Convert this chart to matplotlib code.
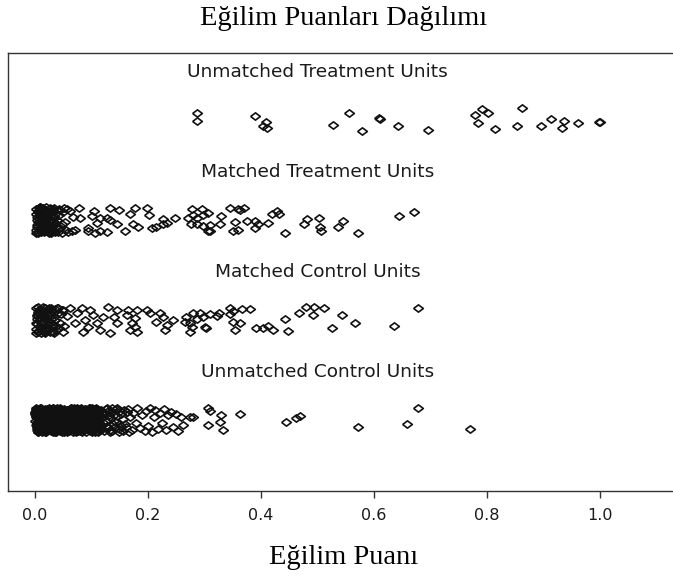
import numpy as np
import matplotlib
matplotlib.use("Agg")
import matplotlib.pyplot as plt

# propensity scores (x) and vertical jitter (j) for each group
ut_x = [0.287, 0.287, 0.389, 0.409, 0.404, 0.411, 0.527, 0.556, 0.579, 0.609,
        0.611, 0.643, 0.695, 0.779, 0.792, 0.802, 0.784, 0.814, 0.862, 0.853,
        0.895, 0.913, 0.936, 0.933, 0.961, 0.999, 1.000]
ut_j = [0.066, -0.007, 0.043, -0.017, -0.056, -0.076, -0.047, 0.072, -0.109, 0.023,
        0.010, -0.056, -0.099, 0.052, 0.106, 0.066, -0.027, -0.089, 0.116, -0.056,
        -0.056, 0.007, -0.007, -0.076, -0.027, -0.018, -0.022]

# matched treatment: dense part near zero, then the spread
mt_x = [0.001, 0.003, 0.004, 0.006, 0.008, 0.010, 0.011, 0.013, 0.015, 0.017,
        0.002, 0.005, 0.007, 0.009, 0.012, 0.014, 0.016, 0.018, 0.020, 0.022,
        0.003, 0.006, 0.009, 0.012, 0.015, 0.019, 0.021, 0.024, 0.026, 0.028,
        0.004, 0.008, 0.011, 0.014, 0.018, 0.023, 0.025, 0.027, 0.030, 0.032,
        0.001, 0.007, 0.010, 0.016, 0.020, 0.024, 0.029, 0.031, 0.034, 0.036,
        0.005, 0.013, 0.017, 0.022, 0.027, 0.033, 0.035, 0.038, 0.040, 0.043,
        0.009, 0.019, 0.026, 0.030, 0.037, 0.041, 0.045, 0.048, 0.051, 0.055,
        0.002, 0.012, 0.021, 0.028, 0.034, 0.039, 0.044, 0.050, 0.058, 0.062,
        0.006, 0.015, 0.023, 0.032, 0.042, 0.047, 0.053, 0.057, 0.065, 0.068,
        0.077, 0.100, 0.104, 0.115, 0.109, 0.094, 0.132, 0.128, 0.133, 0.149,
        0.145, 0.168, 0.177, 0.173, 0.160, 0.183, 0.198, 0.201, 0.207, 0.215,
        0.227, 0.233, 0.248, 0.227, 0.115, 0.128, 0.106, 0.094, 0.071, 0.080,
        0.277, 0.295, 0.280, 0.297, 0.271, 0.286, 0.307, 0.276, 0.286, 0.298,
        0.309, 0.307, 0.309, 0.330, 0.327, 0.345, 0.360, 0.363, 0.370, 0.354,
        0.351, 0.360, 0.375, 0.389, 0.394, 0.389, 0.413, 0.419, 0.428, 0.432,
        0.442, 0.476, 0.482, 0.503, 0.504, 0.507, 0.537, 0.546, 0.571, 0.645,
        0.670]
mt_j = [0.11, -0.05, 0.03, -0.12, 0.08, -0.02, 0.12, -0.09, 0.05, -0.06,
        -0.10, 0.09, -0.03, 0.13, -0.08, 0.01, -0.12, 0.10, -0.04, 0.06,
        0.00, -0.13, 0.06, -0.06, 0.11, -0.11, 0.03, -0.02, 0.12, -0.09,
        -0.07, 0.04, -0.10, 0.07, -0.01, 0.09, -0.13, 0.04, -0.06, 0.11,
        0.06, 0.12, -0.12, -0.04, 0.13, -0.08, 0.08, -0.11, 0.02, -0.03,
        -0.02, -0.10, 0.10, 0.02, -0.05, 0.12, -0.12, 0.07, -0.09, 0.05,
        0.13, 0.07, -0.11, 0.09, -0.07, -0.12, 0.10, -0.04, 0.12, -0.10,
        -0.13, 0.00, 0.05, -0.13, 0.04, 0.00, -0.08, 0.08, -0.12, 0.09,
        0.08, 0.12, -0.07, -0.01, 0.11, -0.13, -0.02, 0.11, -0.11, 0.03,
        0.123, 0.040, 0.090, 0.023, -0.027, -0.077, 0.117, 0.023, -0.003, 0.103,
        -0.043, 0.057, 0.117, -0.043, -0.110, -0.070, 0.117, 0.050, -0.077, -0.070,
        0.007, -0.027, 0.023, -0.043, -0.110, -0.117, -0.127, -0.110, -0.103, 0.023,
        0.107, 0.107, 0.050, 0.050, 0.017, 0.023, 0.073, -0.043, -0.043, -0.060,
        -0.050, -0.107, -0.110, 0.040, -0.043, 0.123, 0.107, 0.097, 0.117, -0.017,
        -0.110, -0.103, -0.010, -0.010, -0.043, -0.083, -0.027, 0.057, 0.090, 0.057,
        -0.127, -0.037, 0.007, 0.023, -0.070, -0.107, -0.073, -0.007, -0.127, 0.040,
        0.083]

# matched control
mc_x = [0.001, 0.003, 0.005, 0.007, 0.009, 0.011, 0.013, 0.015, 0.017, 0.019,
        0.002, 0.004, 0.006, 0.008, 0.010, 0.012, 0.014, 0.016, 0.018, 0.021,
        0.003, 0.006, 0.009, 0.012, 0.016, 0.020, 0.023, 0.025, 0.027, 0.030,
        0.001, 0.005, 0.010, 0.014, 0.018, 0.022, 0.026, 0.029, 0.032, 0.034,
        0.004, 0.008, 0.011, 0.015, 0.019, 0.024, 0.028, 0.031, 0.035, 0.038,
        0.002, 0.007, 0.013, 0.017, 0.021, 0.026, 0.030, 0.033, 0.037, 0.041,
        0.006, 0.012, 0.018, 0.023, 0.029, 0.036, 0.039, 0.043, 0.046, 0.049,
        0.009, 0.016, 0.022, 0.027, 0.033, 0.040, 0.044, 0.048, 0.052, 0.057,
        0.678, 0.635, 0.566, 0.543, 0.525, 0.493, 0.480, 0.512, 0.492, 0.468,
        0.442, 0.448, 0.392, 0.404, 0.413, 0.422, 0.354, 0.351, 0.363, 0.345,
        0.351, 0.366, 0.381, 0.345, 0.326, 0.322, 0.301, 0.303, 0.274, 0.274,
        0.265, 0.268, 0.280, 0.292, 0.298, 0.286, 0.310, 0.277, 0.245, 0.233,
        0.227, 0.221, 0.204, 0.198, 0.215, 0.230, 0.180, 0.165, 0.162, 0.177,
        0.171, 0.177, 0.180, 0.168, 0.145, 0.130, 0.145, 0.139, 0.121, 0.133,
        0.083, 0.097, 0.103, 0.088, 0.109, 0.094, 0.115, 0.085, 0.071, 0.074,
        0.062, 0.050]
mc_j = [0.12, -0.04, 0.07, -0.11, 0.02, 0.10, -0.08, 0.05, -0.13, 0.09,
        -0.09, 0.04, -0.12, 0.11, -0.03, -0.10, 0.08, -0.05, 0.12, -0.01,
        0.01, 0.13, -0.06, 0.06, -0.12, 0.03, 0.11, -0.09, 0.06, -0.11,
        -0.13, 0.08, 0.10, -0.01, 0.09, -0.07, -0.03, 0.12, -0.04, 0.08,
        0.05, -0.07, -0.13, 0.13, -0.08, 0.12, 0.01, -0.12, 0.11, -0.06,
        -0.03, 0.10, 0.04, -0.10, 0.05, -0.12, -0.07, 0.03, -0.10, 0.12,
        -0.11, -0.02, 0.12, -0.05, 0.09, 0.00, 0.12, -0.08, 0.06, -0.12,
        0.09, -0.12, -0.09, 0.07, -0.13, 0.07, -0.03, 0.10, -0.06, 0.04,
        0.117, -0.060, -0.027, 0.050, -0.083, 0.127, 0.127, 0.117, 0.050, 0.067,
        0.007, -0.107, -0.083, -0.083, -0.060, -0.100, -0.100, -0.017, -0.033, 0.117,
        0.093, 0.107, 0.107, 0.060, 0.073, 0.040, -0.073, -0.075, -0.117, -0.033,
        -0.017, 0.033, 0.067, 0.067, 0.033, 0.007, 0.060, -0.067, 0.000, -0.050,
        0.033, 0.067, 0.067, 0.100, -0.017, -0.100, 0.100, 0.100, 0.050, 0.017,
        -0.033, -0.067, -0.117, -0.100, 0.100, 0.133, -0.033, 0.033, 0.033, -0.133,
        0.117, 0.100, 0.050, 0.000, -0.033, -0.067, -0.100, -0.117, -0.033, 0.067,
        0.117, 0.100]

# unmatched control: the solid block near zero, the thinning edge, then the tail
uc_x = [0.001, 0.009, 0.021, 0.028, 0.041, 0.049, 0.062, 0.069, 0.081, 0.090, 0.102, 0.111,
        0.004, 0.013, 0.019, 0.033, 0.038, 0.052, 0.058, 0.073, 0.079, 0.093, 0.099, 0.114,
        0.002, 0.011, 0.024, 0.031, 0.044, 0.047, 0.064, 0.071, 0.084, 0.088, 0.104, 0.109,
        0.006, 0.016, 0.023, 0.036, 0.043, 0.055, 0.061, 0.076, 0.083, 0.095, 0.101, 0.113,
        0.000, 0.007, 0.017, 0.026, 0.035, 0.045, 0.054, 0.066, 0.074, 0.086, 0.096, 0.106,
        0.003, 0.014, 0.026, 0.029, 0.046, 0.051, 0.066, 0.068, 0.087, 0.092, 0.106, 0.112,
        0.005, 0.008, 0.018, 0.034, 0.040, 0.057, 0.059, 0.077, 0.078, 0.097, 0.098, 0.115,
        0.001, 0.012, 0.022, 0.032, 0.042, 0.053, 0.063, 0.072, 0.082, 0.094, 0.103, 0.108,
        0.007, 0.015, 0.025, 0.035, 0.048, 0.056, 0.067, 0.075, 0.089, 0.091, 0.107, 0.110,
        0.002, 0.010, 0.020, 0.037, 0.039, 0.050, 0.065, 0.070, 0.085, 0.096, 0.100, 0.116,
        0.004, 0.017, 0.027, 0.030, 0.045, 0.058, 0.060, 0.078, 0.080, 0.089, 0.105, 0.112,
        0.000, 0.006, 0.016, 0.028, 0.037, 0.048, 0.057, 0.067, 0.077, 0.087, 0.097, 0.108,
        0.005, 0.012, 0.024, 0.034, 0.043, 0.052, 0.063, 0.074, 0.085, 0.093, 0.104, 0.111,
        0.003, 0.009, 0.019, 0.031, 0.041, 0.054, 0.061, 0.073, 0.079, 0.091, 0.099, 0.110,
        0.001, 0.014, 0.022, 0.036, 0.047, 0.055, 0.068, 0.071, 0.083, 0.095, 0.102, 0.113,
        0.006, 0.011, 0.027, 0.033, 0.044, 0.051, 0.059, 0.076, 0.086, 0.098, 0.107, 0.115,
        0.002, 0.016, 0.018, 0.029, 0.039, 0.049, 0.064, 0.069, 0.081, 0.092, 0.101, 0.109,
        0.004, 0.008, 0.023, 0.035, 0.046, 0.056, 0.062, 0.075, 0.088, 0.090, 0.105, 0.114,
        0.000, 0.013, 0.021, 0.032, 0.040, 0.053, 0.066, 0.072, 0.080, 0.094, 0.103, 0.107,
        0.007, 0.010, 0.025, 0.030, 0.042, 0.047, 0.058, 0.077, 0.082, 0.097, 0.100, 0.112,
        0.003, 0.015, 0.020, 0.037, 0.038, 0.057, 0.060, 0.070, 0.084, 0.088, 0.106, 0.116,
        0.005, 0.007, 0.026, 0.027, 0.045, 0.050, 0.067, 0.078, 0.087, 0.096, 0.098, 0.108,
        0.002, 0.014, 0.018, 0.033, 0.045, 0.053, 0.059, 0.072, 0.086, 0.094, 0.102, 0.113,
        0.006, 0.010, 0.024, 0.031, 0.040, 0.056, 0.064, 0.074, 0.081, 0.092, 0.105, 0.110,
        0.000, 0.016, 0.022, 0.035, 0.043, 0.050, 0.068, 0.070, 0.084, 0.097, 0.099, 0.114,
        0.004, 0.011, 0.020, 0.028, 0.047, 0.054, 0.061, 0.076, 0.088, 0.090, 0.107, 0.111,
        0.117, 0.119, 0.121, 0.122, 0.124, 0.126, 0.127, 0.129, 0.131, 0.132,
        0.118, 0.120, 0.123, 0.125, 0.128, 0.130, 0.133, 0.135, 0.136, 0.138,
        0.134, 0.137, 0.139, 0.141, 0.143, 0.144, 0.146, 0.148, 0.150, 0.152,
        0.140, 0.145, 0.149, 0.153, 0.155, 0.158, 0.160, 0.163, 0.166, 0.169,
        0.156, 0.161, 0.165, 0.171, 0.174, 0.178, 0.181, 0.186, 0.190, 0.194,
        0.197, 0.200, 0.204, 0.207, 0.210, 0.213, 0.217, 0.221, 0.224, 0.228,
        0.232, 0.236, 0.240, 0.244, 0.249, 0.253, 0.258, 0.262,
        0.274, 0.279, 0.307, 0.310, 0.330, 0.327, 0.306, 0.332, 0.363, 0.445,
        0.462, 0.469, 0.571, 0.658, 0.678, 0.770]
uc_j = [0.11, -0.03, 0.07, -0.11, 0.02, 0.09, -0.07, 0.12, -0.01, 0.05, -0.10, 0.08,
        -0.08, 0.05, -0.12, 0.10, -0.05, -0.11, 0.04, -0.03, 0.10, -0.09, 0.03, -0.04,
        0.03, 0.12, -0.06, 0.00, 0.11, -0.02, 0.12, -0.10, 0.06, 0.11, -0.05, -0.11,
        -0.12, -0.09, 0.09, -0.04, -0.09, 0.06, -0.11, 0.07, -0.12, 0.00, 0.12, 0.10,
        0.06, -0.11, 0.01, 0.08, -0.12, 0.12, -0.01, 0.03, -0.07, -0.04, 0.07, -0.02,
        -0.02, 0.08, -0.09, -0.07, 0.06, -0.06, 0.09, -0.12, 0.02, 0.09, -0.12, 0.05,
        0.09, 0.00, 0.11, 0.04, -0.02, 0.02, -0.05, 0.10, -0.09, -0.11, 0.01, -0.08,
        -0.05, -0.12, -0.03, 0.12, 0.09, -0.09, 0.06, -0.06, 0.12, 0.04, -0.07, 0.12,
        0.01, 0.10, 0.05, -0.10, -0.06, 0.10, -0.08, 0.05, -0.04, -0.07, 0.10, -0.06,
        0.12, -0.06, -0.11, 0.06, 0.12, 0.00, 0.11, -0.09, 0.08, 0.12, -0.03, 0.02,
        -0.10, 0.03, 0.10, -0.08, -0.11, -0.04, 0.01, 0.09, -0.11, -0.01, 0.06, -0.12,
        -0.01, 0.07, -0.04, 0.11, 0.01, 0.07, -0.12, -0.02, 0.04, -0.10, -0.08, 0.07,
        0.08, -0.09, 0.12, -0.01, -0.08, 0.11, 0.08, 0.12, -0.06, 0.07, 0.11, -0.03,
        -0.07, 0.11, 0.02, -0.12, 0.05, -0.07, -0.03, -0.07, 0.11, -0.05, -0.01, 0.11,
        0.04, -0.01, -0.08, 0.09, -0.03, 0.04, -0.10, 0.06, -0.02, 0.10, -0.11, 0.00,
        -0.11, 0.06, 0.08, -0.05, 0.10, -0.12, 0.05, -0.11, 0.09, -0.08, 0.04, -0.10,
        0.10, -0.04, -0.12, 0.03, -0.10, 0.08, 0.12, 0.01, -0.10, 0.02, 0.08, 0.09,
        -0.04, 0.12, 0.04, -0.09, 0.07, -0.05, -0.06, 0.11, 0.00, -0.12, -0.06, 0.04,
        0.07, -0.07, -0.02, 0.12, -0.04, 0.03, 0.10, -0.08, 0.07, 0.06, 0.09, -0.09,
        -0.09, 0.02, 0.09, -0.06, 0.11, -0.10, -0.09, 0.08, -0.08, -0.03, -0.12, 0.06,
        0.02, 0.09, -0.10, 0.05, -0.12, 0.09, 0.03, -0.04, 0.10, 0.11, 0.03, -0.05,
        -0.06, -0.10, 0.06, -0.02, 0.03, -0.08, -0.04, 0.04, -0.05, -0.06, 0.12, 0.01,
        0.045, -0.015, 0.075, -0.085, -0.055, 0.015, 0.095, -0.115, 0.025, -0.035, 0.065, -0.075,
        -0.115, 0.035, -0.045, 0.085, -0.005, 0.105, -0.025, 0.045, -0.085, 0.075, -0.095, 0.015,
        0.085, -0.065, 0.115, -0.025, 0.055, -0.045, 0.065, -0.095, 0.025, -0.015, 0.105, -0.055,
        -0.035, 0.075, -0.075, 0.005, -0.115, 0.095, -0.055, 0.115, -0.035, 0.045, -0.005, 0.085,
        0.10, -0.05, 0.03, -0.11, 0.07, -0.01, 0.12, -0.08, 0.05, -0.12,
        -0.09, 0.06, -0.03, 0.11, -0.06, 0.09, -0.10, 0.02, 0.12, -0.04,
        0.08, -0.11, 0.05, -0.07, 0.11, -0.02, 0.04, -0.12, 0.09, -0.06,
        -0.01, 0.12, -0.09, 0.06, -0.11, 0.10, -0.04, 0.08, -0.12, 0.03,
        0.01, -0.07, 0.11, -0.10, 0.07, -0.03, 0.12, -0.08, 0.05, -0.11,
        0.09, -0.06, 0.12, -0.12, 0.03, 0.10, -0.09, 0.07, -0.03, 0.11,
        -0.10, 0.05, 0.08, -0.07, 0.06, -0.11, 0.03, -0.05,
        0.033, 0.033, 0.117, 0.093, 0.050, -0.017, -0.050, -0.100, 0.057, -0.017,
        0.023, 0.043, -0.067, -0.043, 0.117, -0.093]

groups = ["Unmatched Treatment Units", "Matched Treatment Units",
          "Matched Control Units", "Unmatched Control Units"]
rows = [4, 3, 2, 1]
ticks = [0.0, 0.2, 0.4, 0.6, 0.8, 1.0]

# slightly flattened open diamond, like the R pch 5 after the picture was stretched
diamond = [(-1, 0), (0, 0.75), (1, 0), (0, -0.75), (-1, 0)]

fig = plt.figure(figsize=(6.73, 5.77), dpi=100)
ax = fig.add_axes([8 / 673, 1 - 491 / 577, 672 / 673, 438 / 577])

data = [(ut_x, ut_j), (mt_x, mt_j), (mc_x, mc_j), (uc_x, uc_j)]
for (xs, js), row in zip(data, rows):
    ax.plot(xs, row + np.array(js), linestyle="none", marker=diamond,
            markersize=7, markerfacecolor="none", markeredgecolor="#111111",
            markeredgewidth=1.2)

for name, row in zip(groups, rows):
    ax.text(0.5, row + 0.48, name, ha="center", va="center",
            fontsize=13.3, family="DejaVu Sans", color="#1a1a1a")

ax.set_xlim(-27 / 565, 645 / 565)
ax.set_ylim(0.29, 4.67)
ax.set_yticks([])
ax.set_xticks(ticks)
ax.set_xticklabels([f"{t:.1f}" for t in ticks], fontsize=11.5,
                   family="DejaVu Sans", color="#1a1a1a")
ax.tick_params(axis="x", direction="out", length=5, width=1, pad=7, color="#333333")
for side in ["left", "top", "bottom", "right"]:
    ax.spines[side].set_color("#333333")
    ax.spines[side].set_linewidth(1.0)

ax.set_title("Eğilim Puanları Dağılımı", family="Liberation Serif",
             fontsize=20.5, y=(491 - 25) / 438, pad=0, va="baseline")
ax.set_xlabel("Eğilim Puanı", family="Liberation Serif", fontsize=20.5, va="baseline")
ax.xaxis.set_label_coords(0.5, (491 - 564) / 438)

fig.savefig("out.png", dpi=100)
